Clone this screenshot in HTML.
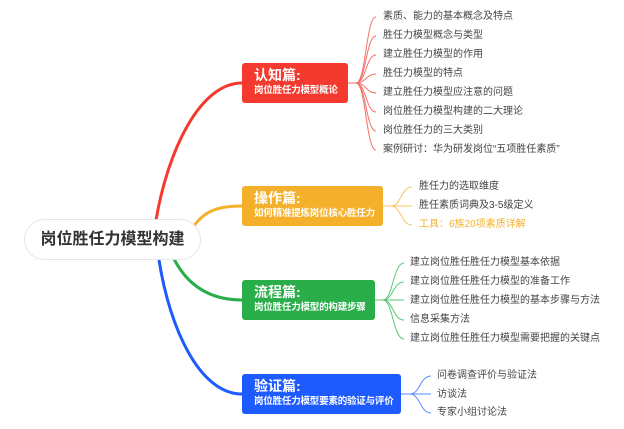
<!DOCTYPE html>
<html><head><meta charset="utf-8"><style>
body{margin:0;width:624px;height:429px;background:#fff;position:relative;overflow:hidden;font-family:"Liberation Sans","Noto Sans CJK SC",sans-serif}
.t{position:absolute;font-size:10px;color:#444;white-space:nowrap;line-height:12px}
.b{position:absolute;border-radius:3px;color:#fff;font-weight:bold;padding:4px 0 0 12px;box-sizing:border-box;white-space:nowrap}
.b .h{font-size:14px;line-height:17px}
.b .s{font-size:9.5px;line-height:13px;letter-spacing:-0.2px}
.root{position:absolute;left:24px;top:219px;width:177px;height:41px;border:1px solid #e6e6e6;border-radius:21px;box-sizing:border-box;text-align:center;line-height:39px;font-size:16px;font-weight:bold;color:#333;background:#fff}
</style></head><body>
<svg width="624" height="429" style="position:absolute;left:0;top:0" fill="none">
<path d="M156 220 C168 150 200 83 242 83" stroke="#f43a2e" stroke-width="3"/>
<path d="M194 226 C205 210 220 206 242 206" stroke="#f5b02b" stroke-width="3"/>
<path d="M174 259 C190 290 215 300 242 300" stroke="#2aae4a" stroke-width="3"/>
<path d="M159 260 C170 330 200 394 242 394" stroke="#1e5bff" stroke-width="3"/>
<g stroke="#f47068" stroke-width="1">
<path d="M348 83 H356 C366 83 366 17 376 17"/><path d="M356 83 C366 83 366 36 376 36"/><path d="M356 83 C366 83 366 55 376 55"/><path d="M356 83 C366 83 366 74 376 74"/><path d="M356 83 C366 83 366 93 376 93"/><path d="M356 83 C366 83 366 112 376 112"/><path d="M356 83 C366 83 366 131 376 131"/><path d="M356 83 C366 83 366 150 376 150"/>
</g>
<g stroke="#f7c560" stroke-width="1">
<path d="M383 206 H391 C401 206 401 187 412 187"/><path d="M391 206 H412"/><path d="M391 206 C401 206 401 225 412 225"/>
</g>
<g stroke="#5cc877" stroke-width="1">
<path d="M375 300 H383 C393 300 393 263 404 263"/><path d="M383 300 C393 300 393 282 404 282"/><path d="M383 300 H404"/><path d="M383 300 C393 300 393 320 404 320"/><path d="M383 300 C393 300 393 339 404 339"/>
</g>
<g stroke="#5a8bff" stroke-width="1">
<path d="M401 394 H410 C420 394 420 376 431 376"/><path d="M410 394 H431"/><path d="M410 394 C420 394 420 413 431 413"/>
</g>
</svg>
<div class="root">岗位胜任力模型构建</div>
<div class="b" style="left:242px;top:63px;width:106px;height:40px;background:#f43a2e"><div class="h">认知篇:</div><div class="s">岗位胜任力模型概论</div></div>
<div class="b" style="left:242px;top:186px;width:141px;height:40px;background:#f5b02b"><div class="h">操作篇:</div><div class="s">如何精准提炼岗位核心胜任力</div></div>
<div class="b" style="left:242px;top:280px;width:133px;height:40px;background:#2aae4a"><div class="h">流程篇:</div><div class="s">岗位胜任力模型的构建步骤</div></div>
<div class="b" style="left:242px;top:374px;width:159px;height:40px;background:#1e5bff"><div class="h">验证篇:</div><div class="s">岗位胜任力模型要素的验证与评价</div></div>
<div class="t" style="left:383px;top:11px">素质、能力的基本概念及特点</div>
<div class="t" style="left:383px;top:30px">胜任力模型概念与类型</div>
<div class="t" style="left:383px;top:49px">建立胜任力模型的作用</div>
<div class="t" style="left:383px;top:68px">胜任力模型的特点</div>
<div class="t" style="left:383px;top:87px">建立胜任力模型应注意的问题</div>
<div class="t" style="left:383px;top:106px">岗位胜任力模型构建的二大理论</div>
<div class="t" style="left:383px;top:125px">岗位胜任力的三大类别</div>
<div class="t" style="left:383px;top:144px">案例研讨：华为研发岗位“五项胜任素质”</div>
<div class="t" style="left:419px;top:181px">胜任力的选取维度</div>
<div class="t" style="left:419px;top:200px">胜任素质词典及3-5级定义</div>
<div class="t" style="left:419px;top:219px;color:#f5b02b">工具：6族20项素质详解</div>
<div class="t" style="left:410px;top:257px">建立岗位胜任胜任力模型基本依据</div>
<div class="t" style="left:410px;top:276px">建立岗位胜任胜任力模型的准备工作</div>
<div class="t" style="left:410px;top:295px">建立岗位胜任胜任力模型的基本步骤与方法</div>
<div class="t" style="left:410px;top:314px">信息采集方法</div>
<div class="t" style="left:410px;top:333px">建立岗位胜任胜任力模型需要把握的关键点</div>
<div class="t" style="left:437px;top:370px">问卷调查评价与验证法</div>
<div class="t" style="left:437px;top:389px">访谈法</div>
<div class="t" style="left:437px;top:407px">专家小组讨论法</div>
</body></html>
